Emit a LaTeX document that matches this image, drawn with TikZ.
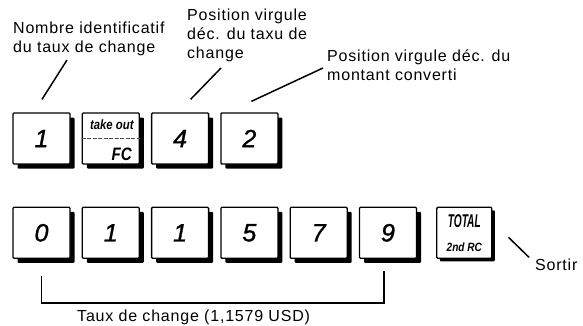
\documentclass[tikz,border=0pt]{standalone}
\usepackage{fontspec}
\setmainfont{Liberation Sans}
\newfontfamily\lblfont[LetterSpace=5]{Liberation Sans}
\newfontfamily\digitfont[FakeBold=1.2]{Liberation Sans}
\newfontfamily\narrowfont[FakeStretch=0.84]{Liberation Sans}
\newfontfamily\tallfont[FakeStretch=0.55]{Liberation Sans}
\usetikzlibrary{positioning,calc,shadows}

\begin{document}
\begin{tikzpicture}[
  x=1pt, y=1pt,
  node distance=42pt and 11pt,
  keyshape/.style={draw, fill=white, line width=1.3pt, rounded corners=1pt,
                   minimum width=57pt, minimum height=51pt, inner sep=0pt,
                   font=\digitfont\itshape\fontsize{25}{25}\selectfont},
  key/.style={keyshape,
              drop shadow={shadow xshift=4.5pt, shadow yshift=-4.5pt, fill=black, opacity=1}},
  fnkey/.style={keyshape, minimum width=55pt,
                drop shadow={shadow xshift=3pt, shadow yshift=-3pt, fill=black, opacity=1}},
  keytxt/.style={inner sep=0pt, font=\narrowfont\bfseries\itshape\fontsize{#1}{#1}\selectfont},
  lbl/.style={font=\lblfont\fontsize{16}{19}\selectfont, align=left,
              inner sep=0pt, anchor=base west},
  lead/.style={line width=1.5pt},
]
  \useasboundingbox (0,0) rectangle (583,-325);

  % Keys, first row
  \node[key] (k1) at (41.5,-138.5) {1};
  \node[key, right=of k1] (fc) {};
  \node[key, right=of fc] (k4) {4};
  \node[key, right=of k4] (k2) {2};
  \draw[dash pattern=on 4pt off 1.5pt, line width=0.8pt, gray!60!black] (fc.west) -- (fc.east);
  \node[keytxt=13.5, anchor=base] at ($(fc.north)+(1,-17)$) {take out};
  \node[keytxt=18, anchor=base east] at ($(fc.south east)+(-8,4.5)$) {FC};

  % Keys, second row
  \node[key, below=of k1] (n0) {0};
  \node[key, right=of n0] (n1) {1};
  \node[key, right=of n1] (n1b) {1};
  \node[key, right=of n1b] (n5) {5};
  \node[key, right=of n5] (n7) {7};
  \node[key, right=of n7] (n9) {9};
  \node[fnkey, right=19pt of n9] (total) {};
  \node[inner sep=0pt, font=\tallfont\bfseries\itshape\fontsize{18.5}{18.5}\selectfont,
        anchor=base] at ($(total.north)+(0,-21)$) {TOTAL};
  \node[keytxt=12, anchor=base] at ($(total.south)+(0,7)$) {2nd RC};

  % Labels (base anchor sits on the last line)
  \node[lbl] (ident) at (13,-52.3) {Nombre identificatif\\du taux de change};
  \node[lbl] (posrate) at (187,-58.5) {Position virgule\\déc. du taxu de\\change};
  \node[lbl] (posamt) at (327,-80) {Position virgule déc. du\\montant converti};
  \node[lbl] (exit) at (535,-270) {Sortir};
  \node[lbl] (rate) at (77,-321) {Taux de change (1,1579 USD)};

  % Leaders
  \coordinate (ident-a) at (67,-60);
  \coordinate (ident-b) at ($(k1.north)+(0.5,13)$);
  \coordinate (posrate-a) at (221,-68);
  \coordinate (posrate-b) at ($(k4.north)+(10.5,13)$);
  \coordinate (posamt-a) at (323,-68);
  \coordinate (posamt-b) at ($(k2.north)+(2,11)$);
  \coordinate (exit-a) at ($(total.east)+(16,-4.5)$);
  \coordinate (exit-b) at ($(exit.west)+(-6,7)$);
  \draw[lead] (ident-a) -- (ident-b);
  \draw[lead] (posrate-a) -- (posrate-b);
  \draw[lead] (posamt-a) -- (posamt-b);
  \draw[lead] (exit-a) -- (exit-b);

  % Bracket under the rate digits
  \draw[line width=1.3pt] ($(n0.south)+(0,-17)$) -- ++(0,-27)
    -| ($(n9.south)+(-4,-12)$);
\end{tikzpicture}
\end{document}
